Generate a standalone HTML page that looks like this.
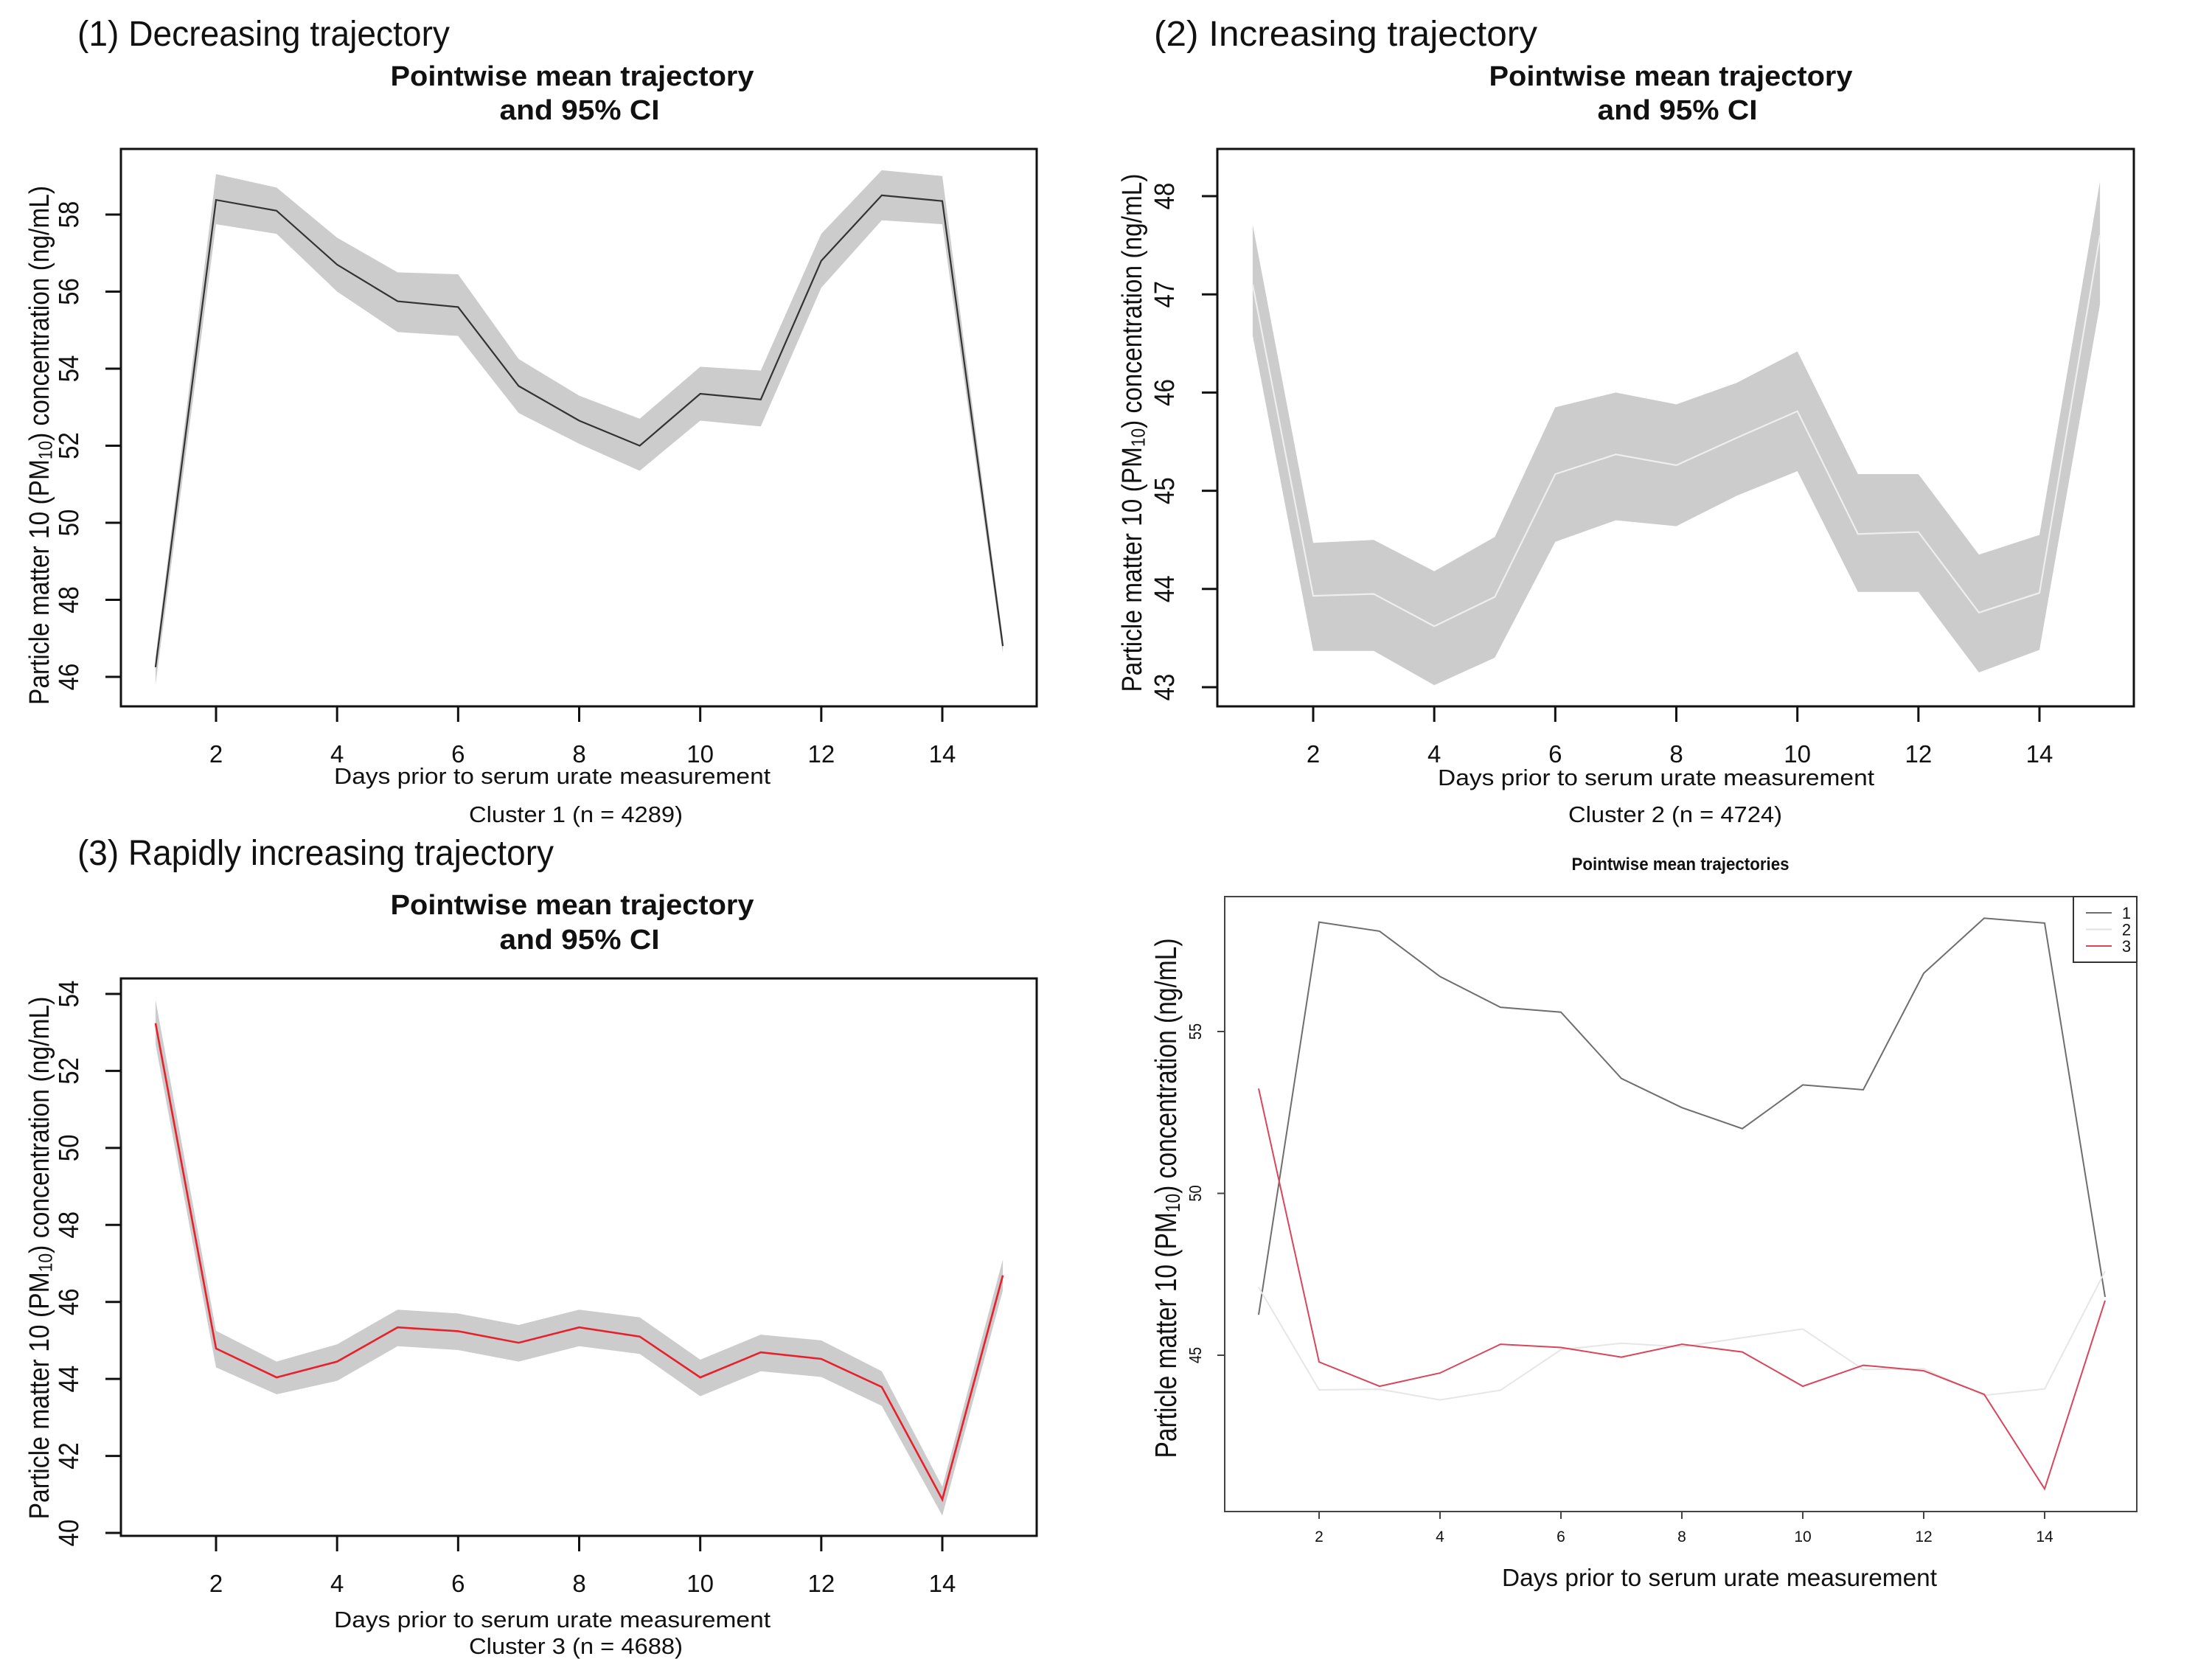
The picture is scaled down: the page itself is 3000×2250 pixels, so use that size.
<!DOCTYPE html>
<html><head><meta charset="utf-8"><style>
html,body{margin:0;padding:0;background:#fff;}
svg{display:block;}
text{font-family:"Liberation Sans",Arial,sans-serif;fill:#111;}
</style></head>
<body>
<svg id="fig" width="3000" height="2250" viewBox="0 0 3000 2250" xmlns="http://www.w3.org/2000/svg">
<rect width="3000" height="2250" fill="#fff"/>
</svg>
<script>
const days = [1,2,3,4,5,6,7,8,9,10,11,12,13,14,15];
const xTicks = [2,4,6,8,10,12,14];
const c1Mean = [46.25,58.38,58.1,56.7,55.75,55.6,53.55,52.65,52.0,53.35,53.2,56.8,58.5,58.35,46.8];
const c1Lo   = [45.8,57.75,57.5,56.0,54.95,54.85,52.85,52.05,51.35,52.65,52.5,56.1,57.85,57.75,46.6];
const c1Hi   = [46.5,59.05,58.7,57.4,56.5,56.45,54.25,53.3,52.7,54.05,53.95,57.5,59.15,59.0,47.0];
const c2Mean = [47.1,43.93,43.95,43.62,43.92,45.17,45.37,45.26,45.54,45.81,44.56,44.58,43.76,43.96,47.6];
const c2Lo   = [46.58,43.37,43.37,43.02,43.3,44.48,44.7,44.64,44.95,45.2,43.97,43.97,43.15,43.38,46.9];
const c2Hi   = [47.71,44.47,44.5,44.18,44.53,45.85,46.0,45.88,46.1,46.42,45.17,45.17,44.35,44.55,48.15];
const c3Mean = [53.24,44.79,44.04,44.45,45.34,45.24,44.94,45.34,45.1,44.04,44.69,44.52,43.79,40.87,46.69];
const c3Lo   = [52.7,44.3,43.6,43.95,44.85,44.75,44.45,44.85,44.65,43.55,44.2,44.05,43.3,40.45,46.3];
const c3Hi   = [53.85,45.25,44.45,44.9,45.8,45.7,45.4,45.8,45.6,44.5,45.15,45.0,44.2,41.2,47.1];
const yTicks1 = [46,48,50,52,54,56,58];
const yTicks2 = [43,44,45,46,47,48];
const yTicks3 = [40,42,44,46,48,50,52,54];
const yTicks4 = [45,50,55];
const legendLabels = ["1","2","3"];

const NS = "http://www.w3.org/2000/svg";
const svg = document.getElementById("fig");
function mk(tag, attrs, parent, txt){
  const e = document.createElementNS(NS, tag);
  for (const k in attrs) e.setAttribute(k, attrs[k]);
  if (txt !== undefined) e.textContent = txt;
  (parent || svg).appendChild(e);
  return e;
}
function lin(d0,d1,r0,r1){ return v => r0 + (v-d0)*(r1-r0)/(d1-d0); }

function ylabel(g, x, cy, len, fs){
  const t = mk("text",{x:0,y:0,"text-anchor":"middle","font-size":fs,transform:`translate(${x},${cy}) rotate(-90) scale(1,1.12)`,textLength:len,lengthAdjust:"spacingAndGlyphs"},g);
  
  
  mk("tspan",{},t,"Particle matter 10 (PM");
  mk("tspan",{"font-size":fs*0.68,"dy":fs*0.12},t,"10");
  mk("tspan",{"dy":-fs*0.12},t,") concentration (ng/mL)");
}

function panel(o){
  const g = mk("g",{});
  
  
  const X = lin(2,14,o.x2,o.x14), Y = lin(o.ya,o.yb,o.pya,o.pyb);
  if (o.lo){
    let d = "M" + days.map((dd,i)=>X(dd).toFixed(1)+","+Y(o.hi[i]).toFixed(1)).join("L");
    for (let i=days.length-1;i>=0;i--) d += "L"+X(days[i]).toFixed(1)+","+Y(o.lo[i]).toFixed(1);
    const band = mk("path",{d:d+"Z",fill:"#cccccc",stroke:"none"},g);
    
    
  }
  o.series.forEach((s)=>{
    const p = mk("polyline",{points:days.map((dd,i)=>X(dd).toFixed(1)+","+Y(s.v[i]).toFixed(1)).join(" "),fill:"none",stroke:s.c,"stroke-width":s.w},g);
    
    
  });
  const box = mk("rect",{x:o.bx0,y:o.by0,width:o.bx1-o.bx0,height:o.by1-o.by0,fill:"none",stroke:o.bc||"#111","stroke-width":o.bw},g);
  
  
  xTicks.forEach(t=>{
    const l = mk("line",{x1:X(t),x2:X(t),y1:o.by1,y2:o.by1+o.tl,stroke:o.bc||"#111","stroke-width":o.bw},g);
    
    
    const tx = mk("text",{x:X(t),y:o.xtY,"text-anchor":"middle","font-size":o.xtF},g,String(t));
    
    
  });
  o.yt.forEach(t=>{
    const l = mk("line",{x1:o.bx0-o.tl,x2:o.bx0,y1:Y(t),y2:Y(t),stroke:o.bc||"#111","stroke-width":o.bw},g);
    
    
    const tx = mk("text",{x:0,y:0,"text-anchor":"middle","font-size":o.ytF,transform:`translate(${o.ytX},${Y(t)}) rotate(-90) scale(1,1.15)`},g,String(t));
    
    
  });
  return {g,X,Y};
}
function txt(x,y,s,fs,len,bold,name,anchor){
  const t = mk("text",{x:x,y:y,"font-size":fs,"text-anchor":anchor||"middle","font-weight":bold?"bold":"normal",textLength:len,lengthAdjust:"spacingAndGlyphs"},svg,s);
  
  
  return t;
}

panel({name:"panel-cluster-1",x2:293,x14:1278,ya:58,yb:46,pya:291,pyb:918,lo:c1Lo,hi:c1Hi,
  series:[{v:c1Mean,c:"#333333",w:2.2,n:"mean-line-cluster-1"}],
  bx0:164,bx1:1406,by0:202,by1:958,bw:3,tl:21,xtY:1034,xtF:33,yt:yTicks1,ytX:106,ytF:33});
txt(105,62,"(1) Decreasing trajectory",48,505,false,"panel-1-heading","start");
txt(776,116,"Pointwise mean trajectory",38,493,true,"panel-1-title-line1");
txt(786,162,"and 95% CI",38,217,true,"panel-1-title-line2");
txt(749,1063,"Days prior to serum urate measurement",31,592,false,"x-axis-title");
txt(781,1115,"Cluster 1 (n = 4289)",31,290,false,"cluster-1-caption");
ylabel(svg,66,604,704,34);

panel({name:"panel-cluster-2",x2:1781,x14:2766,ya:48,yb:43,pya:266,pyb:932,lo:c2Lo,hi:c2Hi,
  series:[{v:c2Mean,c:"#eeeeee",w:2.2,n:"mean-line-cluster-2"}],
  bx0:1651,bx1:2894,by0:202,by1:958,bw:3,tl:21,xtY:1034,xtF:33,yt:yTicks2,ytX:1592,ytF:33});
txt(1565,62,"(2) Increasing trajectory",48,520,false,"panel-2-heading","start");
txt(2266,116,"Pointwise mean trajectory",38,493,true,"panel-2-title-line1");
txt(2275,162,"and 95% CI",38,217,true,"panel-2-title-line2");
txt(2246,1065,"Days prior to serum urate measurement",31,592,false,"x-axis-title");
txt(2272,1115,"Cluster 2 (n = 4724)",31,290,false,"cluster-2-caption");
ylabel(svg,1548,587,703,34);

panel({name:"panel-cluster-3",x2:293,x14:1278,ya:54,yb:40,pya:1348,pyb:2079,lo:c3Lo,hi:c3Hi,
  series:[{v:c3Mean,c:"#e8202c",w:2.6,n:"mean-line-cluster-3"}],
  bx0:164,bx1:1406,by0:1327,by1:2083,bw:3,tl:21,xtY:2159,xtF:33,yt:yTicks3,ytX:106,ytF:33});
txt(105,1173,"(3) Rapidly increasing trajectory",48,646,false,"panel-3-heading","start");
txt(776,1240,"Pointwise mean trajectory",38,493,true,"panel-3-title-line1");
txt(786,1287,"and 95% CI",38,217,true,"panel-3-title-line2");
txt(749,2207,"Days prior to serum urate measurement",31,592,false,"x-axis-title");
txt(781,2243,"Cluster 3 (n = 4688)",31,290,false,"cluster-3-caption");
ylabel(svg,66,1706,709,34);

panel({name:"panel-all-clusters",x2:1789,x14:2773,ya:55,yb:45,pya:1399,pyb:1838,
  series:[{v:c1Mean,c:"#6e6e6e",w:2,n:"line-cluster-1"},{v:c2Mean,c:"#e6e6e6",w:2,n:"line-cluster-2"},{v:c3Mean,c:"#d9455a",w:2,n:"line-cluster-3"}],
  bx0:1661,bx1:2898,by0:1216,by1:2050,bw:2,bc:"#444",tl:10,xtY:2091,xtF:21,yt:yTicks4,ytX:1629,ytF:20});
txt(2279,1180,"Pointwise mean trajectories",24,295,true,"panel-4-title");
txt(2332,2151,"Days prior to serum urate measurement",33,590,false,"x-axis-title");
ylabel(svg,1595,1625,705,36);
const lg = mk("g",{});


const lr = mk("rect",{x:2812,y:1216,width:86,height:89,fill:"#fff",stroke:"#333","stroke-width":2},lg);


const legCols = ["#6e6e6e","#e0e0e0","#d9455a"];
legendLabels.forEach((lab,i)=>{
  const yy = 1238 + i*22.5;
  const l = mk("line",{x1:2829,x2:2864,y1:yy,y2:yy,stroke:legCols[i],"stroke-width":2},lg);
  
  
  const t = mk("text",{x:2884,y:yy+8,"font-size":22,"text-anchor":"middle"},lg,lab);
  
  
});
</script>
</body></html>
